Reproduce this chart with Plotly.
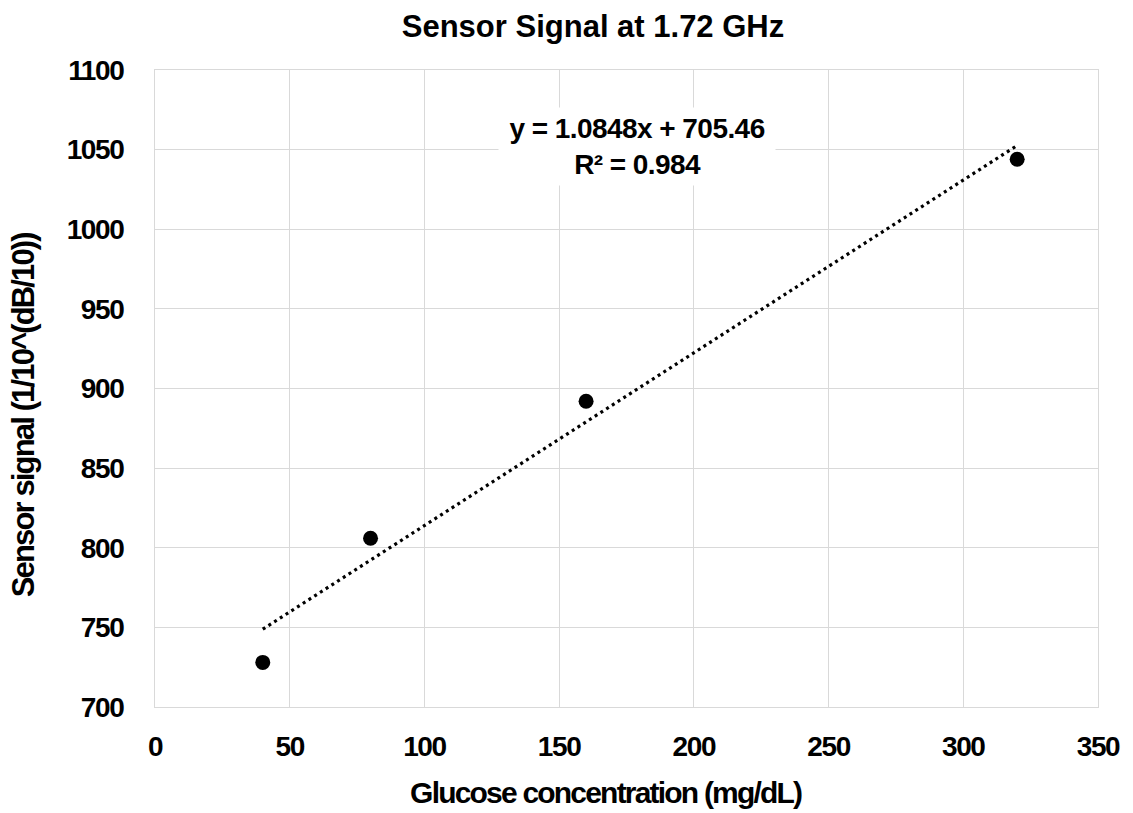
import plotly.graph_objects as go

glucose = [40, 80, 160, 320]
signal = [728, 806, 892, 1044]
slope = 1.0848
intercept = 705.46
r2 = 0.984
trend_x = [min(glucose), max(glucose)]
trend_y = [slope * v + intercept for v in trend_x]

title_text = "Sensor Signal at 1.72 GHz"
x_title = "Glucose concentration (mg/dL)"
y_title = "Sensor signal (1/10^(dB/10))"

FONT = "Liberation Sans"

fig = go.Figure()
fig.add_trace(go.Scatter(x=trend_x, y=trend_y, mode="lines",
                         line=dict(color="black", width=3.2, dash="3px,3.8px"),
                         showlegend=False, hoverinfo="skip"))
fig.add_trace(go.Scatter(x=glucose, y=signal, mode="markers",
                         marker=dict(color="black", size=15),
                         showlegend=False))

# 0: trendline equation
fig.add_annotation(x=179, y=1052, xref="x", yref="y",
                   text=f"<b>y = {slope}x + {intercept}<br>R² = {r2}</b>",
                   showarrow=False, align="center",
                   font=dict(family=FONT, size=28, color="black"),
                   bgcolor="white", borderpad=5)
# 1: x axis title
fig.add_annotation(x=0.478, y=-0.135, xref="paper", yref="paper",
                   xanchor="center", yanchor="middle",
                   text=f"<b>{x_title}</b>", showarrow=False,
                   font=dict(family=FONT, size=30, color="black"))
# 2: y axis title
fig.add_annotation(x=0, y=0.458, xref="paper", yref="paper",
                   xanchor="center", yanchor="middle", xshift=-132,
                   textangle=-90,
                   text=f"<b>{y_title}</b>", showarrow=False,
                   font=dict(family=FONT, size=31, color="black"))

fig.update_layout(
    width=1133, height=813,
    paper_bgcolor="white", plot_bgcolor="white",
    margin=dict(l=155, r=26, t=70, b=106),
    title=dict(text=f"<b>{title_text}</b>", x=0.5234, xanchor="center",
               xref="container", yref="container",
               y=0.968, yanchor="middle",
               font=dict(family=FONT, size=31, color="black")),
    xaxis=dict(range=[0, 350], dtick=50, tick0=0,
               showgrid=True, gridcolor="#d9d9d9", gridwidth=1,
               showline=True, linecolor="#d9d9d9", linewidth=1, mirror=True,
               zeroline=False, ticks="", ticklabelstandoff=14,
               tickfont=dict(family=FONT, size=28, color="black", weight="bold")),
    yaxis=dict(range=[700, 1100], dtick=50, tick0=700,
               showgrid=True, gridcolor="#d9d9d9", gridwidth=1,
               showline=True, linecolor="#d9d9d9", linewidth=1, mirror=True,
               zeroline=False, ticks="", ticklabelstandoff=25,
               tickfont=dict(family=FONT, size=28, color="black", weight="bold")),
)

post = """
document.documentElement.style.margin = '0';
document.body.style.margin = '0';
document.body.style.overflow = 'hidden';
var st = document.createElement('style');
st.textContent = '.xtick text, .ytick text {letter-spacing: -0.05em;}' +
  ' .annotation[data-index="0"] .annotation-text {letter-spacing: -0.02em;}' +
  ' .annotation[data-index="1"] .annotation-text {letter-spacing: -0.06em;}' +
  ' .annotation[data-index="2"] .annotation-text {letter-spacing: -0.06em;}';
document.head.appendChild(st);
"""

fig.write_html("out.html", post_script=post, config={"displayModeBar": False})
